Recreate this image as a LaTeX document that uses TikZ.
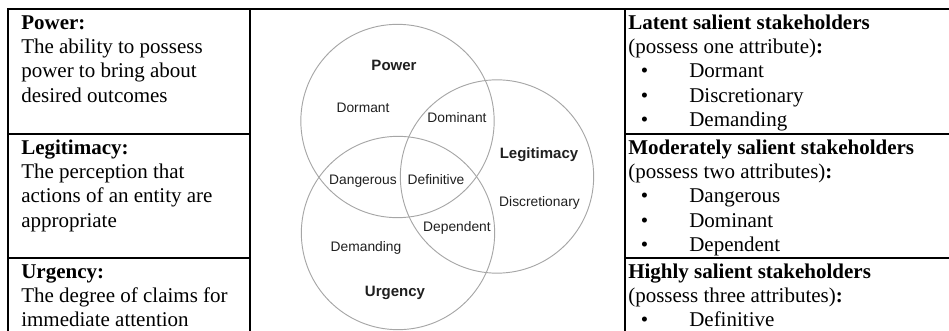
\documentclass[tikz,border=0pt]{standalone}
\usepackage{fontspec}
\setmainfont{Liberation Serif}
\newfontfamily\vsans{Liberation Sans}
\newcommand\tline[1]{\hbox{#1}}
\newcommand\bitem[1]{\hbox{\hbox to 45.75pt{\hskip9.5pt\textbullet\hfil}#1}}
\newcommand\cellbox[1]{\vtop{\baselineskip=18.15pt\lineskiplimit=-20pt #1}}
\begin{document}
\begin{tikzpicture}[x=0.75pt,y=-0.75pt,
  tab/.style={line width=1.65pt, black},
  cell/.style={anchor=base west, inner sep=0pt, font=\fontsize{15.75}{18.15}\selectfont},
  venn/.style={circle, draw=black!35, line width=0.7pt, minimum size=145pt, inner sep=0pt},
  vlab/.style={anchor=base, inner sep=0pt, text=black!88, font=\vsans\fontsize{10.35}{12}\selectfont},
  vbold/.style={vlab, font=\vsans\bfseries\fontsize{11.25}{13}\selectfont}]
\useasboundingbox (0,0) rectangle (949,331);
% table rules
\draw[tab] (8,336) -- (8,9) -- (955,9);
\draw[tab] (250,9) -- (250,336);
\draw[tab] (625,9) -- (625,336);
\draw[tab] (8,134) -- (250,134);
\draw[tab] (8,258) -- (250,258);
\draw[tab] (625,134) -- (955,134);
\draw[tab] (625,258) -- (955,258);
% left column
\node[cell] (powdef) at (21,29.5) {\cellbox{\tline{\textbf{Power:}}\tline{The ability to possess}\tline{power to bring about}\tline{desired outcomes}}};
\node[cell] (legdef) at (21,154.5) {\cellbox{\tline{\textbf{Legitimacy:}}\tline{The perception that}\tline{actions of an entity are}\tline{appropriate}}};
\node[cell] (urgdef) at (21,278.5) {\cellbox{\tline{\textbf{Urgency:}}\tline{The degree of claims for}\tline{immediate attention}}};
% right column
\node[cell] (latent) at (628,29.5) {\cellbox{\tline{\textbf{Latent salient stakeholders}}\tline{(possess one attribute)\textbf{:}}\bitem{Dormant}\bitem{Discretionary}\bitem{Demanding}}};
\node[cell] (moder) at (628,154.5) {\cellbox{\tline{\textbf{Moderately salient stakeholders}}\tline{(possess two attributes)\textbf{:}}\bitem{Dangerous}\bitem{Dominant}\bitem{Dependent}}};
\node[cell] (high) at (628,278.5) {\cellbox{\tline{\textbf{Highly salient stakeholders}}\tline{(possess three attributes)\textbf{:}}\bitem{Definitive}}};
% Venn diagram
\node[venn] (cpow) at (397.5,121) {};
\node[venn] (cleg) at (497,176.5) {};
\node[venn] (curg) at (398,233) {};
\node[vbold] (lpow) at (394,70.4) {Power};
\node[vbold] (lleg) at (539,158.4) {Legitimacy};
\node[vbold] (lurg) at (395,296.4) {Urgency};
\node[vlab] (ldor) at (363,113) {Dormant};
\node[vlab] (ldom) at (457,123) {Dominant};
\node[vlab] (ldan) at (363,185) {Dangerous};
\node[vlab] (ldef) at (436,185) {Definitive};
\node[vlab] (ldis) at (539.5,207) {Discretionary};
\node[vlab] (ldep) at (457,232) {Dependent};
\node[vlab] (ldem) at (366,252) {Demanding};
\end{tikzpicture}
\end{document}
